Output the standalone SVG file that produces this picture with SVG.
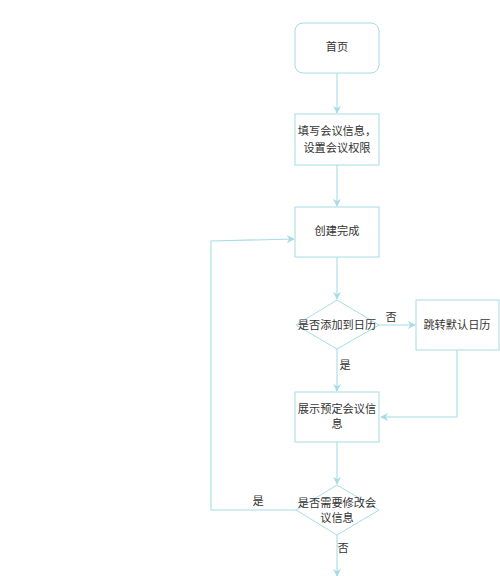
<svg xmlns="http://www.w3.org/2000/svg" width="500" height="576" viewBox="0 0 500 576">
<style>
.n{fill:#ffffff;stroke:#a6dce5;stroke-width:1}
.c{fill:none;stroke:#a6dce5;stroke-width:1.1}
.t{font-family:"Noto Sans CJK SC","Liberation Sans",sans-serif;font-size:11.2px;fill:#333333;text-anchor:middle}
</style>
<defs>
<marker id="a" viewBox="0 0 10 10" refX="9" refY="5" markerWidth="8" markerHeight="8" markerUnits="userSpaceOnUse" orient="auto">
<path d="M0,0 L10,5 L0,10 L3,5 Z" fill="#a6dce5"/>
</marker>
</defs>
<rect width="500" height="576" fill="#ffffff"/>
<g id="connectors">
<line class="c" x1="337" y1="73" x2="337" y2="113" marker-end="url(#a)"/>
<line class="c" x1="337" y1="165" x2="337" y2="206" marker-end="url(#a)"/>
<line class="c" x1="337" y1="257" x2="337" y2="299" marker-end="url(#a)"/>
<line class="c" x1="379" y1="325" x2="415" y2="325" marker-end="url(#a)"/>
<line class="c" x1="337" y1="349" x2="337" y2="391" marker-end="url(#a)"/>
<polyline class="c" points="457,350 457,417 381,417" marker-end="url(#a)"/>
<line class="c" x1="337" y1="442" x2="337" y2="484" marker-end="url(#a)"/>
<polyline class="c" points="296,510 211,510 211,241 294,239" marker-end="url(#a)"/>
<line class="c" x1="337" y1="535" x2="337" y2="576" marker-end="url(#a)"/>
<text class="t" x="391" y="321">否</text>
<text class="t" x="345" y="369">是</text>
<text class="t" x="258" y="505">是</text>
<text class="t" x="343" y="552">否</text>
</g>
<g id="n1">
<rect class="n" x="295" y="23" width="84" height="50" rx="8"/>
<text class="t" x="337" y="51">首页</text>
</g>
<g id="n2">
<rect class="n" x="295" y="114" width="84" height="51"/>
<text class="t" x="337" y="135">填写会议信息，</text>
<text class="t" x="337" y="152">设置会议权限</text>
</g>
<g id="n3">
<rect class="n" x="295" y="207" width="84" height="50"/>
<text class="t" x="337" y="235">创建完成</text>
</g>
<g id="d1">
<polygon class="n" points="337,300 379,325 337,349 296,325"/>
<text class="t" x="337" y="329">是否添加到日历</text>
</g>
<g id="n4">
<rect class="n" x="416" y="300" width="83" height="50"/>
<text class="t" x="457" y="329">跳转默认日历</text>
</g>
<g id="n5">
<rect class="n" x="295" y="392" width="84" height="50"/>
<text class="t" x="337" y="413">展示预定会议信</text>
<text class="t" x="337" y="428">息</text>
</g>
<g id="d2">
<polygon class="n" points="337,485 379,510 337,535 296,510"/>
<text class="t" x="337" y="507">是否需要修改会</text>
<text class="t" x="337" y="522">议信息</text>
</g>
</svg>
